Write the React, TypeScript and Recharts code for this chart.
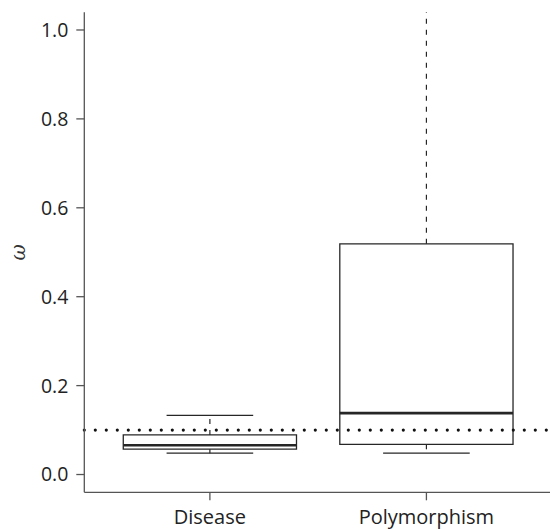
import React from 'react'
import {
  ComposedChart,
  XAxis,
  YAxis,
  ReferenceLine,
  ReferenceArea,
} from 'recharts'

// one entry per group
const categories = ['Disease', 'Polymorphism']
const positions = [1, 2]
const whiskerLow = [0.048, 0.048]
const quartile1 = [0.057, 0.068]
const medians = [0.066, 0.138]
const quartile3 = [0.089, 0.519]
const whiskerHigh = [0.133, 1.2]
const threshold = 0.1
const yTicks = [0, 0.2, 0.4, 0.6, 0.8, 1.0]

const boxHalf = 0.4
const capHalf = 0.2
const ink = '#262626'
const axisInk = '#555'
const font = '"Open Sans", "Noto Sans", sans-serif'

const data = categories.map((name, i) => ({ name, x: positions[i] }))

function App() {
  return (
    <div
      style={{
        position: 'absolute',
        left: 0,
        top: 0,
        width: 550,
        height: 530,
        overflow: 'hidden',
        background: '#fff',
      }}
    >
      <ComposedChart
        width={560}
        height={530}
        data={data}
        margin={{ top: 12.2, right: 8, left: 0, bottom: 0 }}
      >
        <XAxis
          dataKey="x"
          type="number"
          domain={[0.42, 2.58]}
          ticks={positions}
          tickFormatter={(v) => categories[positions.indexOf(v)] ?? ''}
          height={37.7}
          tickSize={8}
          tickMargin={9}
          stroke={axisInk}
          strokeWidth={1.3}
          tick={{ fill: '#222', fontSize: 20, fontFamily: font }}
          interval={0}
        />
        <XAxis
          xAxisId="top"
          orientation="top"
          dataKey="x"
          type="number"
          domain={[0.42, 2.58]}
          height={0}
          tick={false}
          tickLine={false}
          stroke={axisInk}
          strokeWidth={1.3}
        />
        <YAxis
          type="number"
          domain={[-0.04, 1.04]}
          ticks={yTicks}
          tickFormatter={(v) => v.toFixed(1)}
          width={84.3}
          tickSize={8}
          tickMargin={8}
          stroke={axisInk}
          strokeWidth={1.3}
          allowDataOverflow
          tick={{ fill: '#222', fontSize: 19.5, fontFamily: font }}
          label={{
            content: ({ viewBox }: any) => {
              const cx = viewBox.x + 18
              const cy = viewBox.y + viewBox.height / 2
              return (
                <text
                  x={cx}
                  y={cy}
                  transform={`rotate(-90 ${cx} ${cy})`}
                  textAnchor="middle"
                  dominantBaseline="central"
                  fontSize={20}
                  fontStyle="italic"
                  fontFamily='"DejaVu Serif", serif'
                  fill="#333"
                >
                  ω
                </text>
              )
            },
          }}
        />

        {positions.map((p, i) => (
          <ReferenceArea
            key={`box-${i}`}
            x1={p - boxHalf}
            x2={p + boxHalf}
            y1={quartile1[i]}
            y2={quartile3[i]}
            fill="none"
            fillOpacity={0}
            stroke={ink}
            strokeWidth={1.3}
            ifOverflow="hidden"
          />
        ))}
        {positions.map((p, i) => (
          <ReferenceLine
            key={`med-${i}`}
            segment={[
              { x: p - boxHalf, y: medians[i] },
              { x: p + boxHalf, y: medians[i] },
            ]}
            stroke={ink}
            strokeWidth={2.6}
          />
        ))}
        {positions.map((p, i) => (
          <ReferenceLine
            key={`wu-${i}`}
            segment={[
              { x: p, y: quartile3[i] },
              { x: p, y: whiskerHigh[i] },
            ]}
            stroke={ink}
            strokeWidth={1.2}
            strokeDasharray="5 6"
            ifOverflow="hidden"
          />
        ))}
        {positions.map((p, i) => (
          <ReferenceLine
            key={`wl-${i}`}
            segment={[
              { x: p, y: quartile1[i] },
              { x: p, y: whiskerLow[i] },
            ]}
            stroke={ink}
            strokeWidth={1.2}
            strokeDasharray="5 6"
          />
        ))}
        {positions.map((p, i) =>
          whiskerHigh[i] <= 1.04 ? (
            <ReferenceLine
              key={`cu-${i}`}
              segment={[
                { x: p - capHalf, y: whiskerHigh[i] },
                { x: p + capHalf, y: whiskerHigh[i] },
              ]}
              stroke={ink}
              strokeWidth={1.3}
            />
          ) : null,
        )}
        {positions.map((p, i) => (
          <ReferenceLine
            key={`cl-${i}`}
            segment={[
              { x: p - capHalf, y: whiskerLow[i] },
              { x: p + capHalf, y: whiskerLow[i] },
            ]}
            stroke={ink}
            strokeWidth={1.3}
          />
        ))}

        <ReferenceLine
          y={threshold}
          stroke="#111"
          strokeWidth={3.2}
          strokeLinecap="round"
          strokeDasharray="0 11"
        />
      </ComposedChart>
    </div>
  )
}

export default App
